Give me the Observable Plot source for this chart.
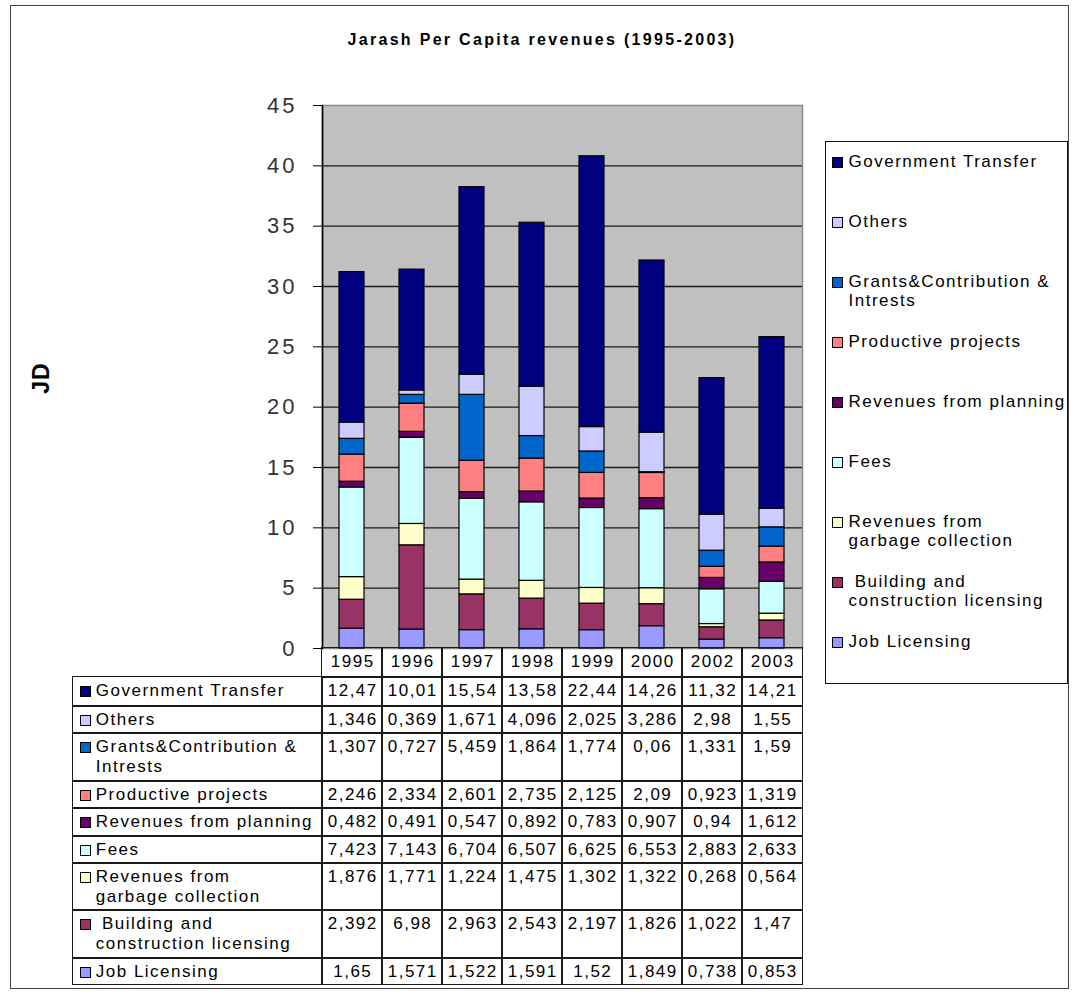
<!DOCTYPE html>
<html><head><meta charset="utf-8">
<script src="https://cdn.jsdelivr.net/npm/d3@7"></script>
<script src="https://cdn.jsdelivr.net/npm/@observablehq/plot@0.6"></script>
<style>
body{margin:0;background:#fff;font-family:"Liberation Sans",Arial,sans-serif;}
#page{position:relative;width:1074px;height:996px;overflow:hidden;background:#fff;}
#page svg{position:absolute;left:0;top:0;}
.abs{position:absolute;box-sizing:border-box;}
.txt{font-size:17px;letter-spacing:1.5px;color:#000;line-height:20px;white-space:pre;}
.sw{position:absolute;width:11px;height:11px;box-sizing:border-box;border:1px solid #000;}
.ytick text{letter-spacing:3px;}
</style></head><body><div id="page"></div>
<script>
// ---- data ----
const years = ["1995","1996","1997","1998","1999","2000","2002","2003"];
const seriesNames = ["Government Transfer","Others","Grants&Contribution & Intrests","Productive projects","Revenues from planning","Fees","Revenues from garbage collection","Building and construction licensing","Job Licensing"];
const seriesLabels = ["Government Transfer","Others","Grants&Contribution &\nIntrests","Productive projects","Revenues from planning","Fees","Revenues from\ngarbage collection"," Building and\nconstruction licensing","Job Licensing"];
const seriesColors = ["#000080","#CCCCFF","#0066CC","#FF8080","#660066","#CCFFFF","#FFFFCC","#993366","#9999FF"];
const govTransfer = [12.47,10.01,15.54,13.58,22.44,14.26,11.32,14.21];
const others = [1.346,0.369,1.671,4.096,2.025,3.286,2.98,1.55];
const grants = [1.307,0.727,5.459,1.864,1.774,0.06,1.331,1.59];
const productive = [2.246,2.334,2.601,2.735,2.125,2.09,0.923,1.319];
const planning = [0.482,0.491,0.547,0.892,0.783,0.907,0.94,1.612];
const fees = [7.423,7.143,6.704,6.507,6.625,6.553,2.883,2.633];
const garbage = [1.876,1.771,1.224,1.475,1.302,1.322,0.268,0.564];
const building = [2.392,6.98,2.963,2.543,2.197,1.826,1.022,1.47];
const jobLicensing = [1.65,1.571,1.522,1.591,1.52,1.849,0.738,0.853];
const yTicks = [0,5,10,15,20,25,30,35,40,45];
const titleText = "Jarash Per Capita revenues (1995-2003)";
const yLabel = "JD";

const seriesValues = [govTransfer, others, grants, productive, planning, fees, garbage, building, jobLicensing];

// stacked bottom-to-top: reverse of table order
const data = [];
years.forEach((yr, j) => {
  for (let i = seriesNames.length - 1; i >= 0; i--) {
    data.push({year: yr, series: seriesNames[i], value: seriesValues[i][j]});
  }
});

const page = document.getElementById("page");
const chart = Plot.plot({
  width: 1074, height: 996,
  marginLeft: 322, marginRight: 272, marginTop: 105, marginBottom: 348,
  style: {background: "transparent", fontFamily: "'Liberation Sans', Arial, sans-serif", overflow: "visible"},
  x: {domain: years, paddingInner: 0.58, paddingOuter: 0.29, axis: null},
  y: {domain: [0, 45]},
  color: {domain: seriesNames, range: seriesColors},
  marks: [
    Plot.frame({fill: "#c0c0c0", stroke: "#8a8a8a", strokeWidth: 1.5}),
    Plot.gridY(yTicks.filter(d => d > 0 && d < 45), {stroke: "#1a1a1a", strokeOpacity: 1, strokeWidth: 1.4}),
    Plot.barY(data, {x: "year", y: "value", fill: "series", stroke: "#000", strokeWidth: 1.2}),
    Plot.frame({anchor: "left", stroke: "#000", strokeWidth: 1.6}),
    Plot.axisY({ticks: yTicks, tickSize: 9, tickPadding: 16, fontSize: 22, stroke: "#000", fill: "#333", label: null, className: "ytick"})
  ]
});
page.appendChild(chart);

function el(cls, css, text) {
  const d = document.createElement("div");
  d.className = cls;
  Object.assign(d.style, css);
  if (text != null) d.textContent = text;
  return d;
}

// outer frame
page.appendChild(el("abs", {left: "10px", top: "5px", width: "1059px", height: "984px", border: "1.5px solid #444"}));
// title
page.appendChild(el("abs", {left: "5px", top: "31px", width: "1074px", textAlign: "center", fontWeight: "bold", fontSize: "16px", letterSpacing: "2.3px", color: "#000"}, titleText));
// y label
page.appendChild(el("abs", {left: "41px", top: "378px", transform: "translate(-50%,-50%) rotate(-90deg)", fontSize: "23px", fontWeight: "bold", color: "#000", letterSpacing: "1px"}, yLabel));

// legend
const legend = el("abs", {left: "825px", top: "141px", width: "243px", height: "543px", border: "1.5px solid #111", background: "#fff"});
seriesNames.forEach((s, i) => {
  const top = 9.5 + i * 60;
  const sw = el("sw", {left: "5.5px", top: (top + 5) + "px", background: seriesColors[i]});
  legend.appendChild(sw);
  legend.appendChild(el("abs txt", {left: "22.5px", top: top + "px", lineHeight: "19px"}, seriesLabels[i]));
});
page.appendChild(legend);

// data table
const tableLeft = 73, labelW = 249, colW = 60, tableTop = 648;
const rowHeights = [29, 29, 27, 48, 27, 28, 27, 47, 48, 26];
const bw = 1.5;
function cell(x, y, w, h) {
  return el("abs", {left: (x - bw / 2) + "px", top: (y - bw / 2) + "px", width: (w + bw) + "px", height: (h + bw) + "px", border: bw + "px solid #1a1a1a"});
}
let y = tableTop;
rowHeights.forEach((h, r) => {
  if (r > 0) {
    const lc = cell(tableLeft, y, labelW, h);
    lc.appendChild(el("sw", {left: "6.5px", top: "9px", background: seriesColors[r - 1]}));
    lc.appendChild(el("abs txt", {left: "22.5px", top: "4px"}, seriesLabels[r - 1]));
    page.appendChild(lc);
  }
  years.forEach((yr, j) => {
    const c = cell(tableLeft + labelW + j * colW, y, colW, h);
    const t = r === 0 ? yr : String(seriesValues[r - 1][j]).replace(".", ",");
    c.appendChild(el("abs txt", {left: "0px", top: "4px", width: "100%", textAlign: "center", paddingLeft: "1.5px"}, t));
    page.appendChild(c);
  });
  y += h;
});
</script></body></html>
